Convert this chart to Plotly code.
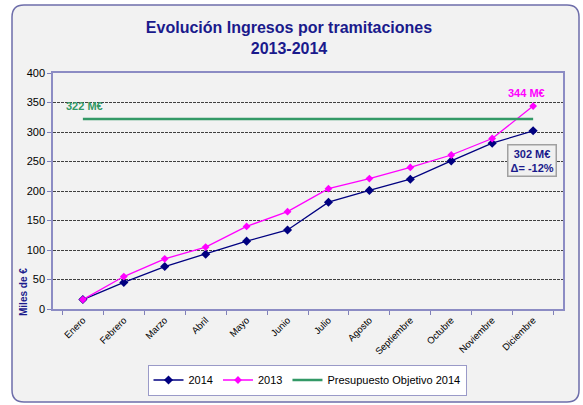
import plotly.graph_objects as go

meses = ["Enero", "Febrero", "Marzo", "Abril", "Mayo", "Junio", "Julio",
         "Agosto", "Septiembre", "Octubre", "Noviembre", "Diciembre"]
ingresos_2014 = [16, 45, 72, 93, 115, 134, 181, 201, 220, 251, 281, 302]
ingresos_2013 = [16, 55, 85, 105, 140, 165, 204, 221, 240, 261, 289, 344]
presupuesto_2014 = [322] * 12

W, H = 583, 405
L, R, T, B = 53, 20, 73, 96
PW, PH = W - L - R, H - T - B


def px(x):
    return (x - L) / PW


def py(y):
    return (H - B - y) / PH


def rounded_rect(x0, y0, x1, y1, r):
    pts = [
        f"M {px(x0 + r)} {py(y0)}",
        f"L {px(x1 - r)} {py(y0)}",
        f"Q {px(x1)} {py(y0)} {px(x1)} {py(y0 + r)}",
        f"L {px(x1)} {py(y1 - r)}",
        f"Q {px(x1)} {py(y1)} {px(x1 - r)} {py(y1)}",
        f"L {px(x0 + r)} {py(y1)}",
        f"Q {px(x0)} {py(y1)} {px(x0)} {py(y1 - r)}",
        f"L {px(x0)} {py(y0 + r)}",
        f"Q {px(x0)} {py(y0)} {px(x0 + r)} {py(y0)}",
        "Z",
    ]
    return " ".join(pts)


FONT = "Arial, 'Liberation Sans', sans-serif"
NAVY = "#000080"
MAG = "#FF00FF"
GREEN = "#339966"
TITLE_C = "#1a1a8c"

fig = go.Figure()
fig.add_trace(go.Scatter(
    x=meses, y=ingresos_2014, name="2014", mode="lines+markers",
    line=dict(color=NAVY, width=1.3),
    marker=dict(symbol="diamond", size=7, color=NAVY),
))
fig.add_trace(go.Scatter(
    x=meses, y=ingresos_2013, name="2013", mode="lines+markers",
    line=dict(color=MAG, width=1.3),
    marker=dict(symbol="diamond", size=6, color=MAG),
))
fig.add_trace(go.Scatter(
    x=meses, y=presupuesto_2014, name="Presupuesto Objetivo 2014", mode="lines",
    line=dict(color=GREEN, width=2.5),
))

fig.update_layout(
    width=W, height=H,
    margin=dict(l=L, r=R, t=T, b=B, autoexpand=False),
    paper_bgcolor="white",
    plot_bgcolor="white",
    font=dict(family=FONT, size=11, color="black"),
    title=dict(
        text="<b>Evolución Ingresos por tramitaciones<br>2013-2014</b>",
        x=289 / W, xanchor="center",
        y=1 - 33 / H, yanchor="middle", yref="container",
        font=dict(size=16, color=TITLE_C, family=FONT),
    ),
    showlegend=True,
    legend=dict(
        orientation="h",
        x=px(307), xanchor="center",
        y=py(380), yanchor="middle",
        bgcolor="white", bordercolor="#9a9ac8", borderwidth=1,
        font=dict(size=11, color="black"),
        itemwidth=30,
    ),
    shapes=[dict(
        type="path", xref="paper", yref="paper",
        path=rounded_rect(12, 5, 579, 402, 12),
        fillcolor="#f2f2f2", line=dict(color="#6e6eaa", width=1.5),
        layer="below",
    )],
)

fig.update_xaxes(
    type="category",
    automargin=False,
    tickangle=-45,
    tickfont=dict(size=9.5, color="black"),
    ticks="outside", ticklen=4, tickcolor="#8080b8",
    tickson="boundaries",
    showline=True, linecolor="#8c8cc4", linewidth=2, mirror=True,
    showgrid=False,
)
fig.update_yaxes(
    automargin=False,
    range=[0, 400], dtick=50,
    tickfont=dict(size=11, color="black"),
    ticks="outside", ticklen=4, tickcolor="#8080b8",
    showline=True, linecolor="#8c8cc4", linewidth=1.5, mirror=True,
    showgrid=True, gridcolor="#404040", gridwidth=1, griddash="3px,1px",
    zeroline=False,
)

fig.add_annotation(
    text="<b>Miles de €</b>", xref="paper", yref="paper",
    x=px(23), y=py(292), xanchor="center", yanchor="middle",
    textangle=-90, showarrow=False,
    font=dict(size=10, color=TITLE_C),
)
fig.add_annotation(
    text="<b>322 M€</b>", xref="paper", yref="y",
    x=px(84), y=344, xanchor="center", yanchor="middle", showarrow=False,
    font=dict(size=11, color=GREEN),
)
fig.add_annotation(
    text="<b>344 M€</b>", xref="paper", yref="y",
    x=px(526), y=366, xanchor="center", yanchor="middle", showarrow=False,
    font=dict(size=11, color=MAG),
)
fig.add_annotation(
    text="<b>302 M€<br>Δ= -12%</b>", xref="paper", yref="y",
    x=px(532), y=252, xanchor="center", yanchor="middle", showarrow=False,
    font=dict(size=11, color=TITLE_C),
    bgcolor="#f0f0f0", bordercolor="#a0a0a0", borderwidth=1.5, borderpad=2,
)

fig.write_html(
    "out.html",
    config={"displayModeBar": False},
    post_script="document.body.style.margin='0';document.body.style.overflow='hidden';",
)
